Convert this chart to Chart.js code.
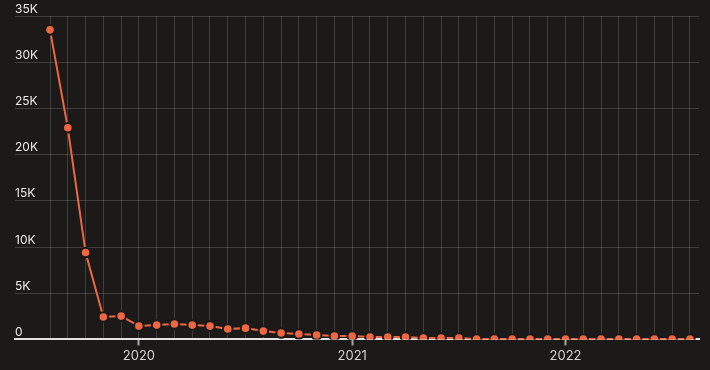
<!DOCTYPE html>
<html>
<head>
<meta charset="utf-8">
<script src="https://cdn.jsdelivr.net/npm/chart.js@4.4.1/dist/chart.umd.min.js"></script>
<style>
  html, body { margin: 0; padding: 0; background: #1b1a18; }
  #wrap { width: 710px; height: 370px; }
</style>
</head>
<body>
<div id="wrap"><canvas id="c" width="710" height="370"></canvas></div>
<script>
// Months from Aug 2019 to Aug 2022
const months = [
  '2019-08','2019-09','2019-10','2019-11','2019-12',
  '2020-01','2020-02','2020-03','2020-04','2020-05','2020-06','2020-07','2020-08','2020-09','2020-10','2020-11','2020-12',
  '2021-01','2021-02','2021-03','2021-04','2021-05','2021-06','2021-07','2021-08','2021-09','2021-10','2021-11','2021-12',
  '2022-01','2022-02','2022-03','2022-04','2022-05','2022-06','2022-07','2022-08'
];
const values = [
  33500, 22900, 9400, 2420, 2520,
  1440, 1550, 1660, 1550, 1440, 1120, 1220, 900, 690, 580, 470, 370,
  370, 260, 260, 260, 150, 150, 150, 40, 40, 40, 40, 40,
  40, 40, 40, 40, 40, 40, 40, 40
];
const yTicks = [0, 5000, 10000, 15000, 20000, 25000, 30000, 35000];

const BG = '#1b1a18';
const ORANGE = '#ee6742';

const points = values.map((v, i) => ({ x: i, y: v }));

new Chart(document.getElementById('c'), {
  type: 'line',
  data: {
    datasets: [{
      data: points,
      borderColor: ORANGE,
      borderWidth: 2,
      backgroundColor: ORANGE,
      pointBackgroundColor: ORANGE,
      pointBorderColor: BG,
      pointBorderWidth: 2,
      pointRadius: 4.8,
      pointHoverRadius: 4.8,
      tension: 0,
      fill: false
    }]
  },
  options: {
    responsive: false,
    animation: false,
    events: [],
    layout: { padding: { left: 15, right: 11, top: 16, bottom: 3 } },
    plugins: { legend: { display: false }, tooltip: { enabled: false } },
    scales: {
      x: {
        type: 'linear',
        min: -1.97,
        max: 36.51,
        afterBuildTicks: (axis) => { axis.ticks = months.map((m, i) => ({ value: i })); },
        grid: {
          color: 'rgba(255,255,255,0.16)',
          lineWidth: 1,
          drawTicks: true,
          tickLength: 6,
          tickWidth: 2,
          tickColor: (ctx) => (ctx.tick && months[ctx.tick.value] && months[ctx.tick.value].endsWith('-01')) ? '#a8a8a8' : 'rgba(0,0,0,0)'
        },
        border: { display: true, color: '#e2e2e2', width: 2 },
        ticks: {
          autoSkip: false,
          maxRotation: 0,
          padding: 3,
          color: '#d4d4d4',
          font: { family: 'Inter', size: 13 },
          callback: (v) => {
            const m = months[v];
            return (m && m.endsWith('-01')) ? m.slice(0, 4) : '';
          }
        }
      },
      y: {
        min: 0,
        max: 35000,
        afterBuildTicks: (axis) => { axis.ticks = yTicks.map(v => ({ value: v })); },
        grid: {
          color: 'rgba(255,255,255,0.16)',
          lineWidth: 1,
          drawTicks: false
        },
        border: { display: false },
        ticks: {
          mirror: true,
          padding: 0,
          labelOffset: -7,
          color: '#ebebeb',
          font: { family: 'Inter', size: 12 },
          callback: (v) => v === 0 ? '0' : (v / 1000) + 'K'
        }
      }
    }
  }
});
</script>
</body>
</html>
